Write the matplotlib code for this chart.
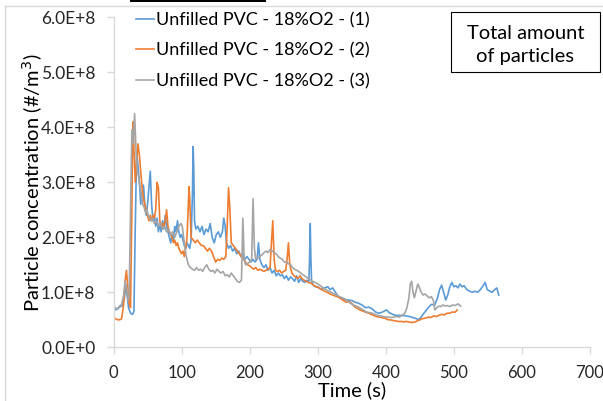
import matplotlib
matplotlib.use("Agg")
import matplotlib.pyplot as plt
import matplotlib.patches as mpatches
from matplotlib.ticker import FuncFormatter

plt.rcParams['font.family'] = ['Lato', 'DejaVu Sans']

# ---------------- data (values in units of 1E8 #/m3) ----------------
t1 = [0,3,6,10,13,16,18,20,22,25,28,30,32,34,36,38,40,42,44,46,48,50,52,54,56,58,60,62,64,66,68,70,72,74,76,78,80,82,84,86,88,90,92,94,96,98,100,102,104,106,108,110,112,114,116,117,118,119,121,124,127,130,133,136,139,142,145,148,151,154,157,160,162,164,166,169,172,175,178,181,184,187,190,193,196,199,202,205,208,211,213,215,218,221,224,227,230,233,236,239,242,245,248,251,254,257,260,263,266,269,272,275,278,281,284,287,288,289,290,291,294,297,300,305,310,315,318,322,326,331,335,340,345,350,355,360,365,370,375,380,385,390,395,401,405,410,415,420,424,430,435,440,445,448,452,456,460,463,467,472,476,479,482,485,488,491,494,497,500,503,506,509,512,515,519,523,527,531,535,539,543,546,549,553,556,560,563,566]
v1 = [0.72,0.68,0.70,0.74,0.76,0.90,1.10,0.95,0.72,0.62,0.60,0.65,2.20,3.55,3.30,3.00,2.60,2.80,2.95,2.60,2.40,2.60,2.90,3.20,2.60,2.30,2.40,2.20,2.35,2.10,2.25,2.10,2.30,2.15,2.40,2.20,2.10,2.00,1.90,2.05,1.95,2.20,2.10,2.30,2.10,2.00,2.05,1.95,1.85,1.80,1.90,1.85,1.80,1.95,2.80,3.65,3.20,2.30,2.15,2.20,2.10,2.20,2.05,2.15,2.10,2.25,2.00,1.90,2.05,2.10,2.00,2.10,2.35,2.20,1.90,1.80,1.85,1.75,1.80,1.70,1.75,1.65,1.70,1.60,1.65,1.60,1.55,1.60,1.55,1.60,1.90,1.60,1.50,1.45,1.50,1.40,1.45,1.35,1.40,1.30,1.35,1.30,1.32,1.25,1.30,1.22,1.28,1.25,1.20,1.30,1.18,1.25,1.20,1.18,1.22,1.20,1.60,2.25,1.60,1.20,1.12,1.10,1.10,1.05,1.08,1.10,1.05,1.08,1.00,0.91,0.90,0.86,0.86,0.85,0.82,0.80,0.77,0.72,0.73,0.70,0.64,0.62,0.64,0.68,0.63,0.60,0.58,0.58,0.58,0.57,0.56,0.54,0.52,0.50,0.55,0.62,0.68,0.73,0.78,0.77,0.90,1.05,1.13,1.00,0.86,0.95,1.10,1.18,1.10,1.12,1.08,1.15,1.10,1.12,1.05,1.02,1.00,1.02,1.00,1.05,1.12,1.18,1.05,1.02,1.00,1.05,1.08,0.95]

t2 = [0,3,6,9,12,15,17,19,21,23,25,27,28,29,30,32,34,36,38,40,42,44,46,48,50,52,54,56,58,60,62,64,66,68,70,72,74,76,78,80,82,84,86,88,90,92,94,96,98,100,102,104,106,108,110,111,112,114,117,120,123,126,129,132,135,138,141,144,147,150,153,156,159,162,165,167,169,171,173,176,179,182,185,188,191,194,197,200,203,206,209,212,215,218,221,224,227,230,232,234,236,238,241,244,247,250,253,255,257,259,262,265,268,271,274,277,280,283,286,289,292,295,298,302,306,310,314,318,322,326,331,334,338,342,346,350,354,358,362,366,370,375,378,382,386,390,394,398,404,406,410,414,418,424,426,430,434,438,443,446,450,454,458,463,466,470,474,478,482,486,490,494,497,502,505]
v2 = [0.55,0.52,0.50,0.50,0.52,0.80,1.20,1.40,1.10,0.80,0.72,2.50,3.90,4.10,3.60,3.00,3.40,3.70,3.50,3.20,2.90,2.70,2.60,2.50,2.40,2.30,2.40,2.30,2.40,2.35,2.50,3.00,2.90,2.30,2.20,2.25,2.20,2.30,2.50,2.20,2.10,2.05,2.00,1.90,1.95,1.85,1.90,1.80,1.75,1.70,1.75,1.65,1.80,2.00,2.60,2.92,2.70,2.00,1.95,1.90,1.95,1.90,1.85,1.85,1.80,1.75,1.80,1.75,1.65,1.55,1.60,1.58,1.62,1.60,1.65,2.20,2.90,2.50,1.90,1.85,1.80,1.75,1.70,1.65,1.60,1.55,1.50,1.48,1.45,1.42,1.45,1.40,1.42,1.40,1.38,1.40,1.42,1.45,1.90,2.30,1.60,1.40,1.38,1.40,1.35,1.38,1.40,1.60,1.90,1.50,1.35,1.30,1.28,1.25,1.30,1.25,1.22,1.20,1.18,1.17,1.15,1.12,1.10,1.08,1.05,1.02,1.00,0.97,0.95,0.93,0.91,0.88,0.85,0.82,0.83,0.80,0.74,0.71,0.68,0.66,0.64,0.62,0.60,0.58,0.56,0.55,0.54,0.53,0.50,0.50,0.49,0.48,0.47,0.47,0.46,0.47,0.46,0.45,0.46,0.48,0.50,0.52,0.53,0.55,0.54,0.57,0.56,0.58,0.60,0.59,0.62,0.62,0.64,0.64,0.68]

t3 = [0,3,6,9,12,15,17,19,21,23,25,27,29,31,33,35,37,39,41,43,45,47,49,51,53,55,57,60,63,66,69,72,75,78,81,84,87,90,93,96,99,101,103,105,107,110,113,116,119,122,125,128,131,134,137,140,143,146,149,152,155,158,161,164,167,170,173,176,179,182,185,188,190,192,194,197,200,203,205,207,209,212,215,218,221,224,227,230,233,236,239,242,245,248,251,254,257,260,263,266,269,272,275,278,281,284,288,292,296,300,304,308,312,316,320,324,328,332,336,340,344,348,352,356,360,364,368,372,376,380,384,388,392,396,400,404,408,412,416,420,424,428,431,434,436,438,440,442,445,447,449,452,455,458,461,464,467,470,472,475,478,481,484,487,490,494,498,502,506,510]
v3 = [0.70,0.72,0.70,0.75,0.78,0.95,1.20,1.10,0.85,0.90,2.50,3.95,3.70,4.25,3.60,3.20,3.10,2.90,2.75,2.60,2.55,2.45,2.50,2.40,2.35,2.30,2.35,2.25,2.30,2.20,2.25,2.15,2.20,2.10,2.15,2.05,2.10,2.00,2.10,2.20,2.25,2.20,2.00,1.80,1.65,1.50,1.45,1.42,1.40,1.45,1.40,1.42,1.38,1.45,1.50,1.42,1.38,1.40,1.35,1.42,1.38,1.35,1.38,1.30,1.32,1.28,1.35,1.30,1.25,1.20,1.18,1.22,2.35,1.60,1.50,1.52,1.55,1.60,2.70,1.80,1.60,1.62,1.65,1.68,1.72,1.75,1.72,1.78,1.75,1.72,1.70,1.65,1.62,1.60,1.55,1.55,1.52,1.50,1.45,1.42,1.40,1.38,1.35,1.32,1.30,1.27,1.24,1.20,1.18,1.15,1.12,1.08,1.05,1.02,1.00,0.97,0.95,0.92,0.90,0.88,0.84,0.80,0.77,0.75,0.73,0.70,0.67,0.64,0.63,0.62,0.60,0.58,0.57,0.56,0.55,0.55,0.54,0.55,0.56,0.55,0.58,0.62,0.72,0.90,1.15,1.20,1.00,0.90,1.05,1.15,1.10,1.00,0.95,0.97,0.93,0.90,0.92,0.85,0.68,0.72,0.75,0.74,0.77,0.75,0.76,0.74,0.77,0.76,0.79,0.75]

labels = ['Unfilled PVC - 18%O2 - (1)', 'Unfilled PVC - 18%O2 - (2)', 'Unfilled PVC - 18%O2 - (3)']
colors = ['#5B9BD5', '#ED7D31', '#A5A5A5']
x_ticks = [0, 100, 200, 300, 400, 500, 600, 700]
y_ticks = [0, 1, 2, 3, 4, 5, 6]

# ---------------- figure ----------------
W, H = 603, 401
fig = plt.figure(figsize=(W/100, H/100), dpi=100)

def fx(px): return px / W
def fy(py): return 1 - py / H

ax = fig.add_axes([fx(113.5), fy(347.3), fx(590) - fx(113.5), fy(17.3) - fy(347.3)])

for t, v, c, l in zip([t1, t2, t3], [v1, v2, v3], colors, labels):
    ax.plot(t, [x * 1e8 for x in v], color=c, lw=1.2, label=l, solid_joinstyle='round')

ax.set_xlim(0, 700)
ax.set_ylim(0, 6e8)
ax.set_xticks(x_ticks)
ax.set_yticks([y * 1e8 for y in y_ticks])
ax.yaxis.set_major_formatter(FuncFormatter(lambda v, p: f"{v/1e8:.1f}E+{8 if v else 0}"))

for s in ['top', 'right']:
    ax.spines[s].set_visible(False)
for s in ['left', 'bottom']:
    ax.spines[s].set_color('#D9D9D9')
    ax.spines[s].set_linewidth(1.0)
ax.tick_params(axis='both', colors='#D9D9D9', labelcolor='#262626', length=5, width=1.0)
ax.tick_params(axis='y', pad=8, labelsize=12.5)
ax.tick_params(axis='x', pad=8, labelsize=12)

ax.set_xlabel('Time (s)', fontsize=14.5, color='black', labelpad=0)
ax.set_ylabel('Particle concentration (#/m$^3$)', fontsize=14.5, color='black', labelpad=-3)

leg = ax.legend(loc='upper left', bbox_to_anchor=(fx(136), fy(12)), bbox_transform=fig.transFigure,
                frameon=False, fontsize=13, handlelength=1.0, handletextpad=0.1,
                labelspacing=0.8, borderaxespad=0, borderpad=0)

# text box
fig.add_artist(mpatches.Rectangle((fx(451), fy(72)), fx(600) - fx(451), fy(12) - fy(72),
                                  transform=fig.transFigure, fill=False, edgecolor='black', lw=0.8))
fig.text(fx(525.5), fy(45), 'Total amount\nof particles', ha='center', va='center',
         multialignment='center', fontsize=14.5, linespacing=1.4)

# chart frame
fig.add_artist(plt.Line2D([fx(5), fx(5)], [fy(6), 0], transform=fig.transFigure, color='#D9D9D9', lw=1))
fig.add_artist(plt.Line2D([fx(5), 1], [fy(6), fy(6)], transform=fig.transFigure, color='#D9D9D9', lw=1))
fig.add_artist(mpatches.Rectangle((fx(130), fy(2)), fx(266) - fx(130), fy(0) - fy(2),
                                  transform=fig.transFigure, color='black', lw=0))

fig.savefig('out.png', dpi=100)
